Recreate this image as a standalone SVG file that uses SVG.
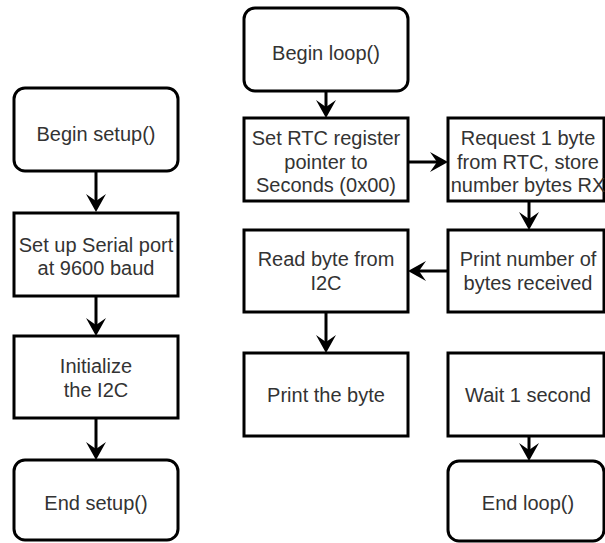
<svg xmlns="http://www.w3.org/2000/svg" width="605" height="543" viewBox="0 0 605 543">
<style>
.box{fill:#fff;stroke:#000;stroke-width:3}
.t{font-family:"Liberation Sans",Arial,sans-serif;font-size:20px;fill:#333;text-anchor:middle}
.c{stroke:#000;stroke-width:3;fill:none;marker-end:url(#ah)}
</style>
<defs>
<marker id="ah" markerUnits="userSpaceOnUse" markerWidth="18" markerHeight="20" viewBox="0 0 18 20" refX="7" refY="10" orient="auto">
<path d="M0,0 L18,10 L0,20 L7,10 Z" fill="#000"/>
</marker>
</defs>
<rect width="605" height="543" fill="#fff"/>
<g id="connectors">
<line class="c" x1="96" y1="171" x2="96" y2="201"/>
<line class="c" x1="96" y1="296" x2="96" y2="325"/>
<line class="c" x1="96" y1="418" x2="96" y2="449"/>
<line class="c" x1="326" y1="91" x2="326" y2="107"/>
<line class="c" x1="408" y1="162" x2="437" y2="162"/>
<line class="c" x1="529" y1="201" x2="529" y2="219"/>
<line class="c" x1="448" y1="271" x2="419" y2="271"/>
<line class="c" x1="326" y1="312" x2="326" y2="342"/>
<line class="c" x1="529" y1="436" x2="529" y2="450"/>
</g>
<g id="begin-setup"><rect class="box" x="14" y="88" width="164" height="83" rx="11"/><text class="t" x="96" y="141">Begin setup()</text></g>
<g id="serial"><rect class="box" x="14" y="213" width="164" height="83"/><text class="t" x="96" y="252">Set up Serial port</text><text class="t" x="96" y="275">at 9600 baud</text></g>
<g id="init-i2c"><rect class="box" x="14" y="336" width="164" height="82"/><text class="t" x="96" y="373">Initialize</text><text class="t" x="96" y="397">the I2C</text></g>
<g id="end-setup"><rect class="box" x="14" y="460" width="164" height="80" rx="11"/><text class="t" x="96" y="510">End setup()</text></g>
<g id="begin-loop"><rect class="box" x="244" y="8" width="164" height="83" rx="11"/><text class="t" x="326" y="60">Begin loop()</text></g>
<g id="set-rtc"><rect class="box" x="244" y="118" width="164" height="83"/><text class="t" x="326" y="145">Set RTC register</text><text class="t" x="326" y="168.5">pointer to</text><text class="t" x="326" y="192">Seconds (0x00)</text></g>
<g id="request"><rect class="box" x="448" y="118" width="156" height="83"/><text class="t" x="528" y="145">Request 1 byte</text><text class="t" x="528" y="168.5">from RTC, store</text><text class="t" x="528" y="192">number bytes RX</text></g>
<g id="print-number"><rect class="box" x="448" y="230" width="156" height="82"/><text class="t" x="528" y="265.5">Print number of</text><text class="t" x="528" y="289.5">bytes received</text></g>
<g id="read-byte"><rect class="box" x="244" y="230" width="164" height="82"/><text class="t" x="326" y="266">Read byte from</text><text class="t" x="326" y="290">I2C</text></g>
<g id="print-byte"><rect class="box" x="244" y="353" width="164" height="83"/><text class="t" x="326" y="402">Print the byte</text></g>
<g id="wait"><rect class="box" x="448" y="353" width="156" height="83"/><text class="t" x="528" y="402">Wait 1 second</text></g>
<g id="end-loop"><rect class="box" x="448" y="461" width="156" height="80" rx="11"/><text class="t" x="528" y="510">End loop()</text></g>
</svg>
